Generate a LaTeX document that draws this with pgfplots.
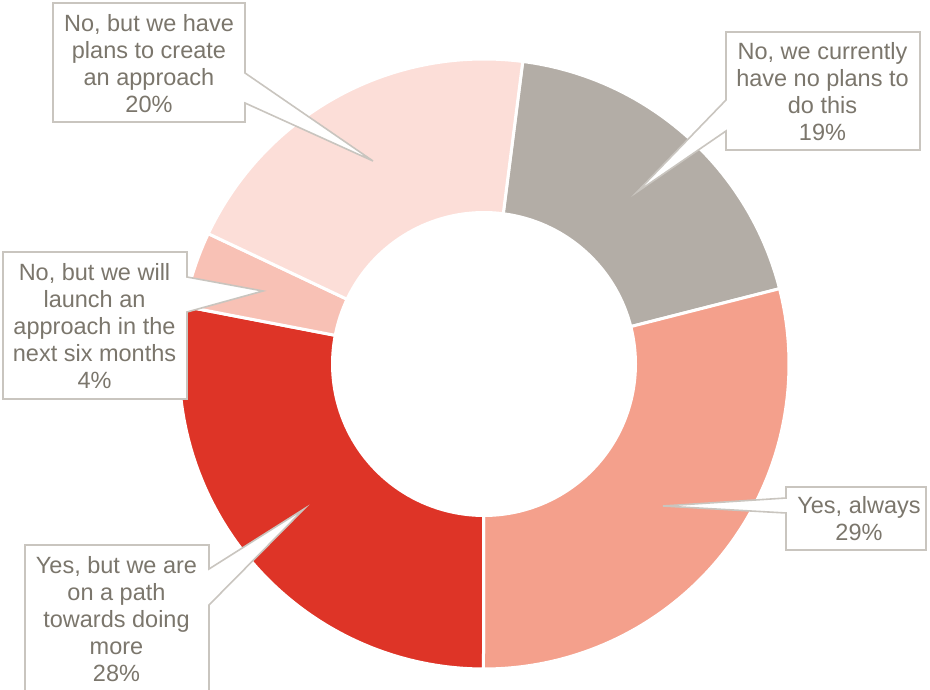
\documentclass[border=0pt]{standalone}
\usepackage{pgfplots}
\pgfplotsset{compat=1.18}
\usepackage{fontspec}
\setmainfont{Liberation Sans}
\definecolor{cGray}{HTML}{B3ADA6}
\definecolor{cSalmon}{HTML}{F4A08C}
\definecolor{cRed}{HTML}{DE3427}
\definecolor{cLight}{HTML}{F8C1B5}
\definecolor{cPale}{HTML}{FCDED8}
\definecolor{txt}{HTML}{7B766C}
\definecolor{bord}{HTML}{C9C5BF}
% shares (percent), clockwise starting at 7.3 degrees from 12 o'clock
\def\pNoPlans{19}
\def\pAlways{29}
\def\pPath{28}
\def\pLaunch{4}
\def\pCreate{20}
\def\startangle{7.3}
\def\cx{484}
\def\cy{364}
\def\Rout{305}
\def\Rin{153}
\newcommand{\slice}[3]{%
  \addplot[fill=#1, draw=white, line width=3pt, line join=round, domain=-0.02:1.02, samples=105, variable=\t]
  ({\cx + \Rout*(\t>=-0.005)*(\t<=1.005)*sin(#2 + max(0,min(1,\t))*(#3-#2))},
   {\cy - \Rout*(\t>=-0.005)*(\t<=1.005)*cos(#2 + max(0,min(1,\t))*(#3-#2))});
}
\tikzset{lbl/.style={font=\fontsize{23.5}{27}\selectfont, text=txt, align=center, inner sep=0pt}}
\begin{document}
\begin{tikzpicture}
\useasboundingbox (0,0) rectangle (930pt,690pt);
\clip (0,0) rectangle (930pt,690pt);
\pgfmathsetmacro{\aA}{\startangle}
\pgfmathsetmacro{\aB}{\aA+3.6*\pNoPlans}
\pgfmathsetmacro{\aC}{\aB+3.6*\pAlways}
\pgfmathsetmacro{\aD}{\aC+3.6*\pPath}
\pgfmathsetmacro{\aE}{\aD+3.6*\pLaunch}
\pgfmathsetmacro{\aF}{\aE+3.6*\pCreate}
\begin{axis}[at={(0,0)}, anchor=south west, width=930pt, height=690pt, scale only axis,
  xmin=0, xmax=930, ymin=0, ymax=690, y dir=reverse, hide axis, clip=false]
\slice{cGray}{\aA}{\aB}
\slice{cSalmon}{\aB}{\aC}
\slice{cRed}{\aC}{\aD}
\slice{cLight}{\aD}{\aE}
\slice{cPale}{\aE}{\aF}
\addplot[fill=white, draw=none, domain=0:360, samples=181] ({\cx+\Rin*sin(x)},{\cy-\Rin*cos(x)});
% callouts
\draw[bord, line width=1.6pt, fill=white] (53,3) -- (245,3) -- (245,73) -- (373,161) -- (245,103) -- (245,122) -- (53,122) -- cycle;
\node[lbl] at (149,63.5) {No, but we have\\plans to create\\an approach\\20\%};
\draw[bord, line width=1.6pt, fill=white] (726,32) -- (920,32) -- (920,150) -- (726,150) -- (726,131) -- (637,192) -- (726,100) -- cycle;
\node[lbl] at (822.5,91.5) {No, we currently\\have no plans to\\do this\\19\%};
\draw[bord, line width=1.6pt, fill=white] (3,252) -- (187,252) -- (187,277) -- (263,291) -- (187,312) -- (187,399) -- (3,399) -- cycle;
\node[lbl] at (94.5,326) {No, but we will\\launch an\\approach in the\\next six months\\4\%};
\draw[bord, line width=1.6pt, fill=white] (786,487) -- (926,487) -- (926,550) -- (786,550) -- (786,513) -- (663,506) -- (786,498) -- cycle;
\node[lbl] at (859,519) {Yes, always\\29\%};
\draw[bord, line width=1.6pt, fill=white] (25,545) -- (209,545) -- (209,569) -- (304,509) -- (209,605) -- (209,700) -- (25,700) -- cycle;
\node[lbl] at (116.5,619) {Yes, but we are\\on a path\\towards doing\\more\\28\%};
\end{axis}
\end{tikzpicture}
\end{document}
